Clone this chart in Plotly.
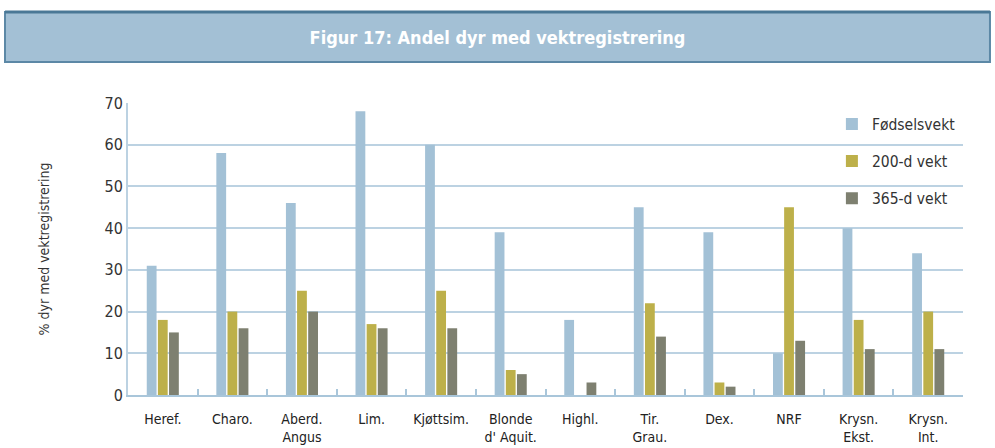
import plotly.graph_objects as go

categories = ["Heref.", "Charo.", "Aberd.<br>Angus", "Lim.", "Kjøttsim.", "Blonde<br>d' Aquit.",
              "Highl.", "Tir.<br>Grau.", "Dex.", "NRF", "Krysn.<br>Ekst.", "Krysn.<br>Int."]
fodselsvekt = [31, 58, 46, 68, 60, 39, 18, 45, 39, 10, 40, 34]
vekt200 = [18, 20, 25, 17, 25, 6, 0, 22, 3, 45, 18, 20]
vekt365 = [15, 16, 20, 16, 16, 5, 3, 14, 2, 13, 11, 11]
series_names = ["Fødselsvekt", "200-d vekt", "365-d vekt"]
colors = ["#A3C1D6", "#BDB04A", "#7E8070"]

FONT = "DejaVu Sans Condensed, Liberation Sans Narrow, Roboto, sans-serif"

fig = go.Figure()
for name, vals, col in zip(series_names, [fodselsvekt, vekt200, vekt365], colors):
    fig.add_trace(go.Bar(x=categories, y=vals, name=name, marker_color=col,
                         marker_line_width=0, legendgroup=name))

fig.update_layout(
    width=995, height=448,
    margin=dict(l=128, r=32, t=103, b=53),
    paper_bgcolor="white", plot_bgcolor="white",
    barmode="group", bargap=0.52, bargroupgap=0.12,
    font=dict(family=FONT, color="#333333", size=15),
    title=dict(text="<b>Figur 17: Andel dyr med vektregistrering</b>",
               x=0.5, xanchor="center", y=1 - 38 / 448, yanchor="middle",
               font=dict(family=FONT, size=18, color="white")),
    legend=dict(x=0.843, y=0.985, xanchor="left", yanchor="top",
                bgcolor="rgba(0,0,0,0)", font=dict(size=15.5, color="#333333"),
                tracegroupgap=14, itemwidth=30),
    showlegend=True,
)
fig.update_yaxes(range=[0, 70], dtick=10, showgrid=True, gridcolor="#BCD2E2", gridwidth=2,
                 showline=True, linecolor="#BCD2E2", linewidth=2, zeroline=False,
                 ticks="", tickfont=dict(size=16, color="#333333"), automargin=False,
                 title=dict(text="% dyr med vektregistrering", font=dict(size=14, color="#333333"),
                            standoff=52))
fig.update_xaxes(showline=True, linecolor="#A9C6DA", linewidth=2, ticks="inside", ticklen=6,
                 tickcolor="#A9C6DA", tickwidth=2, tickson="boundaries",
                 ticklabelstandoff=10, automargin=False,
                 tickfont=dict(size=14, color="#222222"))

# title banner
fig.add_shape(type="rect", xref="paper", yref="paper",
              x0=-0.1473, x1=1.0323, y0=1.140, y1=1.3116,
              fillcolor="#A3C0D5", line=dict(color="#5C88A6", width=2), layer="below")
fig.add_shape(type="line", xref="paper", yref="paper",
              x0=-0.1473, x1=1.0323, y0=1.3116, y1=1.3116,
              line=dict(color="#4A7896", width=3))

fig.write_html("out.html", config={"displayModeBar": False},
               post_script="document.body.style.margin='0';")
